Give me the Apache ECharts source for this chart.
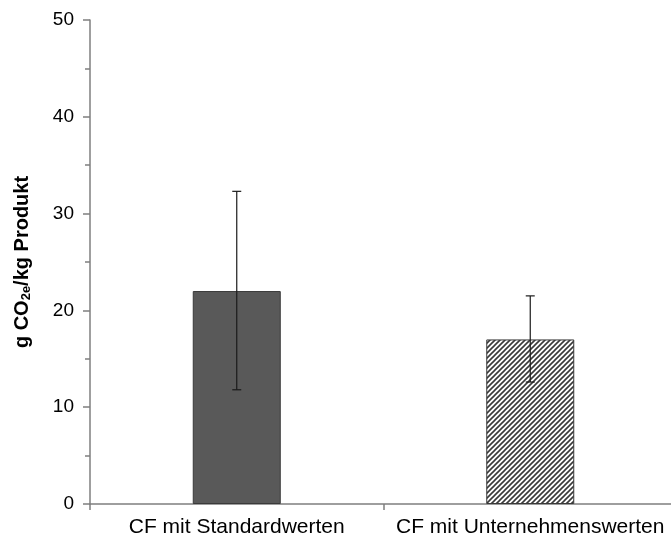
<!DOCTYPE html>
<html>
<head>
<meta charset="utf-8">
<script src="https://cdn.jsdelivr.net/npm/echarts@6/dist/echarts.min.js"></script>
<style>html,body{margin:0;padding:0;background:#fff;overflow:hidden}#c{width:677px;height:539px}</style>
</head>
<body>
<div id="c"></div>
<script>
const categories = ['CF mit Standardwerten', 'CF mit Unternehmenswerten'];
const means = [22.0, 17.0];
const errLow = [11.8, 12.6];
const errHigh = [32.3, 21.5];
const yTicks = [0, 10, 20, 30, 40, 50];

function hatch() {
  const s = 5;
  const c = document.createElement('canvas');
  c.width = s; c.height = s;
  const g = c.getContext('2d');
  g.fillStyle = '#ffffff'; g.fillRect(0, 0, s, s);
  g.strokeStyle = '#3a3a3a'; g.lineWidth = 1.6;
  g.beginPath();
  g.moveTo(-1, s + 1); g.lineTo(s + 1, -1);
  g.moveTo(-1, 1); g.lineTo(1, -1);
  g.moveTo(s - 1, s + 1); g.lineTo(s + 1, s - 1);
  g.stroke();
  return c;
}

const chart = echarts.init(document.getElementById('c'), null, {renderer: 'canvas'});
const font = 'Liberation Sans, Arial, sans-serif';
chart.setOption({
  animation: false,
  grid: {left: 90, top: 20, bottom: 35, right: 0},
  xAxis: {
    type: 'category',
    data: categories,
    axisLine: {lineStyle: {color: '#7f7f7f', width: 1.5}},
    axisTick: {show: true, interval: 0, length: 6, lineStyle: {color: '#7f7f7f', width: 1.5}},
    axisLabel: {color: '#000', fontSize: 21, fontFamily: font, margin: 13, interval: 0, hideOverlap: false}
  },
  yAxis: {
    type: 'value',
    min: yTicks[0], max: yTicks[yTicks.length - 1], interval: 10,
    splitLine: {show: false},
    axisLine: {show: true, lineStyle: {color: '#7f7f7f', width: 1.5}},
    axisTick: {show: true, length: 7, lineStyle: {color: '#7f7f7f', width: 1.5}},
    minorTick: {show: true, splitNumber: 2, length: 5, lineStyle: {color: '#7f7f7f', width: 1.5}},
    axisLabel: {color: '#000', fontSize: 19, fontFamily: font, margin: 16},
    name: '{a|g CO}{s|2e}{a|/kg Produkt}',
    nameLocation: 'middle',
    nameRotate: 90,
    nameGap: 56,
    nameTextStyle: {
      rich: {
        a: {fontSize: 20, fontWeight: 'bold', fontFamily: font, color: '#000', lineHeight: 24},
        s: {fontSize: 13, fontWeight: 'bold', fontFamily: font, color: '#000', lineHeight: 24, padding: [9, 0, 0, 0]}
      }
    }
  },
  series: [
    {
      type: 'bar',
      barWidth: 88,
      data: means.map((v, i) => ({
        value: v,
        itemStyle: i === 0
          ? {color: '#595959', borderColor: '#3a3a3a', borderWidth: 1}
          : {color: {image: hatch(), repeat: 'repeat'}, borderColor: '#3a3a3a', borderWidth: 1}
      }))
    },
    {
      type: 'custom',
      data: categories.map((c, i) => [i, errLow[i], errHigh[i]]),
      z: 10,
      renderItem: function (params, api) {
        const lo = api.coord([api.value(0), api.value(1)]);
        const hi = api.coord([api.value(0), api.value(2)]);
        const hw = 4.5;
        const st = {stroke: '#1a1a1a', lineWidth: 1.2};
        return {
          type: 'group',
          children: [
            {type: 'line', shape: {x1: hi[0], y1: hi[1], x2: lo[0], y2: lo[1]}, style: st},
            {type: 'line', shape: {x1: hi[0] - hw, y1: hi[1], x2: hi[0] + hw, y2: hi[1]}, style: st},
            {type: 'line', shape: {x1: lo[0] - hw, y1: lo[1], x2: lo[0] + hw, y2: lo[1]}, style: st}
          ]
        };
      }
    }
  ]
});
</script>
</body>
</html>
